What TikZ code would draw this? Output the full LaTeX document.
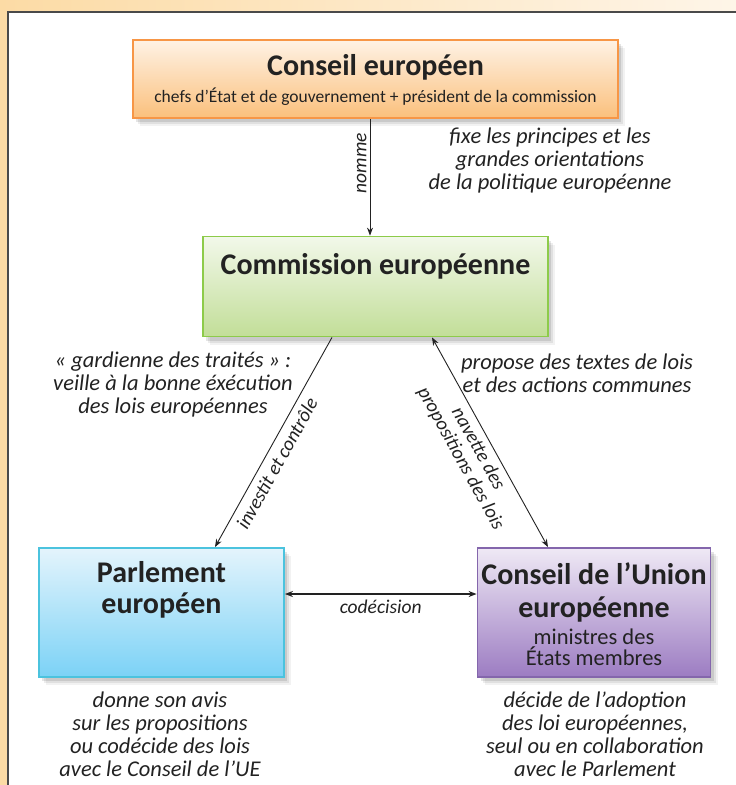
\documentclass[tikz,border=0pt]{standalone}
\usepackage{fontspec}
\setmainfont{Carlito}
\usetikzlibrary{shadows,arrows.meta,calc}
\definecolor{txt}{HTML}{222222}
\definecolor{bgL}{HTML}{FCDBA5}
\definecolor{bgR}{HTML}{FEF5E8}
\definecolor{panelline}{HTML}{4A4A4A}
\definecolor{orB}{HTML}{F79646}\definecolor{orT}{HTML}{FEF2E5}\definecolor{orD}{HTML}{FBC07C}
\definecolor{grB}{HTML}{8DCB4A}\definecolor{grT}{HTML}{F2F8EA}\definecolor{grD}{HTML}{C2DE98}
\definecolor{cyB}{HTML}{4BC3DE}\definecolor{cyT}{HTML}{E4F4FC}\definecolor{cyD}{HTML}{7BD2F6}
\definecolor{puB}{HTML}{8466AC}\definecolor{puT}{HTML}{EFE9F5}\definecolor{puD}{HTML}{9C7CC2}
\tikzset{
  box/.style={rectangle, draw, line width=1.8pt, inner sep=0pt,
    drop shadow={shadow xshift=7pt, shadow yshift=-8pt, opacity=0.05, fill=black},
    drop shadow={shadow xshift=5pt, shadow yshift=-6pt, opacity=0.07, fill=black},
    drop shadow={shadow xshift=3pt, shadow yshift=-4pt, opacity=0.10, fill=black}},
  orbox/.style={box, draw=orB, top color=orT, bottom color=orD},
  grbox/.style={box, draw=grB, top color=grT, bottom color=grD},
  cybox/.style={box, draw=cyB, top color=cyT, bottom color=cyD},
  pubox/.style={box, draw=puB, top color=puT, bottom color=puD},
  ttl/.style={text=txt, font=\bfseries\fontsize{30}{31}\selectfont, align=center, inner sep=0pt},
  sub/.style={text=txt, font=\fontsize{17.5}{20}\selectfont, align=center, inner sep=0pt},
  note/.style={text=txt, font=\itshape\fontsize{22.5}{23}\selectfont, align=center, inner sep=0pt},
  elab/.style={text=txt, font=\itshape\fontsize{19.5}{20}\selectfont, align=center, inner sep=2pt},
  arr/.style={draw=txt, line width=0.9pt, -{Stealth[length=8pt,width=6pt]}},
  darr/.style={draw=txt, line width=0.9pt, {Stealth[length=8pt,width=6pt]}-{Stealth[length=8pt,width=6pt]}},
}
\begin{document}
\begin{tikzpicture}[x=1pt,y=-1pt]
\useasboundingbox (0,0) rectangle (736,785);
% background
\shade[left color=bgL, right color=bgR] (0,0) rectangle (736,785);
\fill[white] (8,12) rectangle (736,785);
\draw[panelline, line width=1.6pt] (8,785) -- (8,12) -- (736,12);

% boxes
\node[orbox, minimum width=485pt, minimum height=78pt] (ce) at (375.5,79) {};
\node[grbox, minimum width=345pt, minimum height=100pt] (com) at (375.5,286.5) {};
\node[cybox, minimum width=245pt, minimum height=129pt] (parl) at (161.5,612.5) {};
\node[pubox, minimum width=233pt, minimum height=129pt] (cu) at (594,612.5) {};

% box texts
\node[ttl] (ceT) at (375.5,67) {Conseil européen};
\node[sub] (ceS) at (375.5,97) {chefs d’État et de gouvernement + président de la commission};
\node[ttl] (comT) at (375.5,266) {Commission européenne};
\node[ttl] (parlT) at (161.5,590) {Parlement\\européen};
\node[ttl, font=\bfseries\fontsize{30}{33}\selectfont] (cuT) at (594,592) {Conseil de l’Union\\européenne};
\node[text=txt, font=\fontsize{22.5}{21}\selectfont, align=center, inner sep=0pt] (cuS) at (594,647) {ministres des\\États membres};

% notes
\node[note] (n1) at (550,160) {fixe les principes et les\\grandes orientations\\de la politique européenne};
\node[note] (n2) at (173,384) {« gardienne des traités » :\\veille à la bonne éxécution\\des lois européennes};
\node[note] (n3) at (577,373) {propose des textes de lois\\et des actions communes};
\node[note] (n4) at (160,734) {donne son avis\\sur les propositions\\ou codécide des lois\\avec le Conseil de l’UE};
\node[note] (n5) at (595,734) {décide de l’adoption\\des loi européennes,\\seul ou en collaboration\\avec le Parlement};

% connectors
\coordinate (nx) at (370,0);
\draw[arr] (ce.south -| nx) -- node[elab, rotate=90, above=1pt, pos=0.38] (lnomme) {nomme} (com.north -| nx);
\coordinate (ix1) at (332,0);
\coordinate (ix2) at (215,0);
\draw[arr] (com.south -| ix1) -- node[elab, sloped, below=4pt, pos=0.57] (linv) {investit et contrôle} (parl.north -| ix2);
\coordinate (vx1) at (432,0);
\coordinate (vx2) at (548,0);
\draw[darr] (com.south -| vx1) -- node[elab, sloped, below=3pt, pos=0.5] (lnav) {navette des\\propositions des lois} (cu.north -| vx2);
\coordinate (cy) at (0,594);
\draw[darr, line width=1.4pt] (parl.east |- cy) -- node[elab, below=3pt] (lcod) {codécision} (cu.west |- cy);
\end{tikzpicture}
\end{document}
